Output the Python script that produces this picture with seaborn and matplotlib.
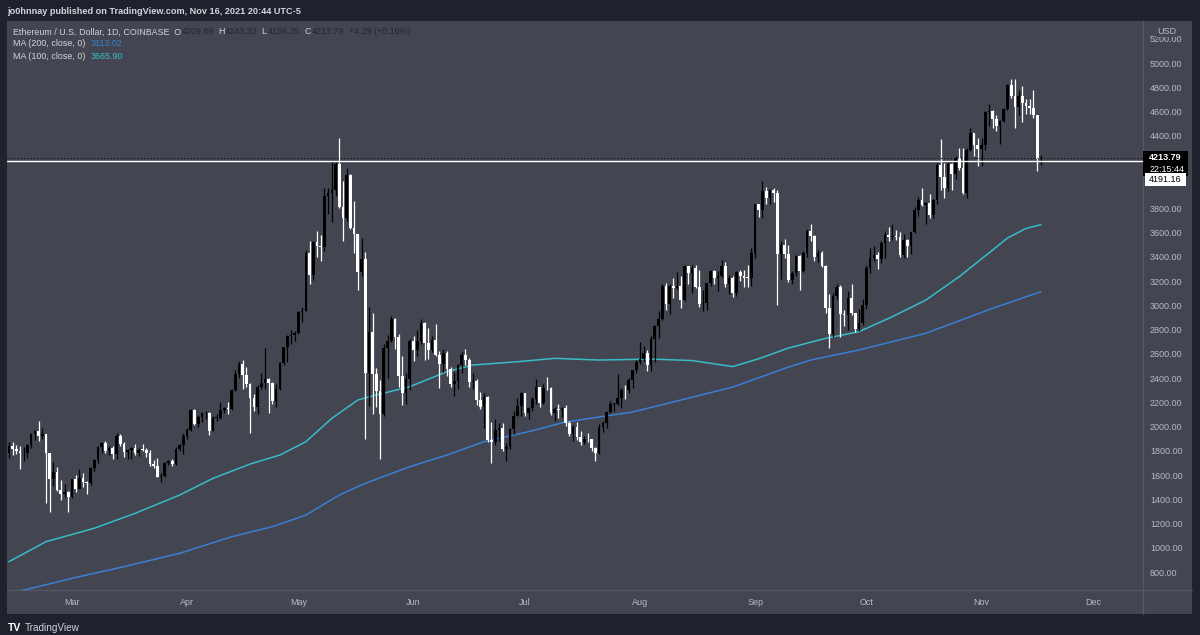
import numpy as np
import pandas as pd
import seaborn as sns
import matplotlib.pyplot as plt
import matplotlib.dates as mdates
from matplotlib.patches import Rectangle
from matplotlib.lines import Line2D
from matplotlib.transforms import blended_transform_factory

# daily candles, ETH/USD Coinbase, 2021-02-12 .. 2021-11-17
first_open = 1784
closes = [
    1842, 1814, 1800, 1780, 1781, 1848, 1937, 1960, 1920, 1935, 1781, 1570, 1625, 1473, 1446, 1459, 1417,  # Feb
    1565, 1488, 1575, 1541, 1533, 1655, 1725, 1835, 1868, 1797, 1825, 1770, 1924, 1855, 1792, 1806,
    1823, 1783, 1810, 1806, 1786, 1688, 1678, 1582, 1589, 1700, 1716, 1690, 1817, 1847, 1919,  # Mar
    1970, 2136, 2025, 2081, 2108, 2112, 1965, 2072, 2073, 2137, 2154, 2142, 2300, 2434, 2517,
    2429, 2350, 2232, 2164, 2323, 2356, 2393, 2360, 2214, 2310, 2527, 2655, 2748, 2758, 2773,  # Apr
    2945, 2950, 3432, 3253, 3524, 3490, 3481, 3902, 3928, 3952, 4168, 3813, 3720, 4075, 3639, 3590,
    3278, 3381, 2439, 2780, 2430, 2295, 2100, 2645, 2708, 2888, 2742, 2416, 2275, 2389, 2706,  # May
    2634, 2706, 2856, 2690, 2631, 2711, 2593, 2518, 2610, 2471, 2354, 2372, 2510, 2590, 2550,
    2365, 2373, 2222, 2164, 2244, 1890, 1873, 1970, 1989, 1816, 1830, 1980, 2087, 2170, 2275,  # Jun
    2112, 2151, 2224, 2325, 2197, 2321, 2316, 2116, 2147, 2138, 2153, 2031, 1940, 1995, 1914, 1875,
    1899, 1895, 1820, 1786, 1994, 2027, 2124, 2189, 2190, 2232, 2300, 2299, 2381, 2465, 2535,  # Jul
    2557, 2609, 2507, 2724, 2827, 2890, 3157, 3013, 3163, 3143, 3164, 3047, 3322, 3267, 3310, 3150,
    3012, 3018, 3183, 3285, 3226, 3241, 3324, 3173, 3226, 3101, 3274, 3245, 3228, 3226, 3433,  # Aug
    3834, 3790, 3941, 3889, 3951, 3926, 3428, 3497, 3427, 3212, 3266, 3408, 3286, 3429, 3613,
    3573, 3399, 3433, 3329, 2977, 2761, 3080, 3155, 2930, 2924, 3062, 2934, 2807, 2852, 3001,  # Sep
    3308, 3391, 3418, 3380, 3518, 3584, 3563, 3576, 3565, 3416, 3543, 3494, 3605, 3791, 3866, 3827,
    3848, 3745, 3873, 4155, 4056, 3972, 4169, 4083, 4218, 4130, 3927, 4285, 4420, 4324, 4288,  # Oct
    4323, 4594, 4603, 4534, 4479, 4520, 4620, 4816, 4731, 4635, 4728, 4666, 4648, 4625, 4570,
    4209.89, 4213.79,  # Nov
]
highs = [
    1871, 1871, 1847, 1840, 1828, 1854, 1950, 1975, 2042, 1985, 1940, 1782, 1710, 1670, 1558, 1525, 1469,
    1570, 1600, 1650, 1620, 1550, 1670, 1735, 1840, 1875, 1880, 1840, 1840, 1946, 1935, 1870, 1815,
    1835, 1860, 1825, 1855, 1820, 1810, 1725, 1740, 1620, 1705, 1725, 1730, 1830, 1860, 1945,
    1990, 2145, 2145, 2095, 2120, 2125, 2120, 2090, 2100, 2200, 2165, 2200, 2310, 2470, 2545,
    2550, 2495, 2360, 2270, 2345, 2440, 2645, 2400, 2370, 2350, 2535, 2660, 2755, 2795, 2790,
    2950, 2985, 3455, 3530, 3535, 3610, 3580, 3970, 3970, 4195, 4185, 4380, 4030, 4135, 4085, 3860,
    3590, 3560, 3440, 2990, 2940, 2485, 2385, 2680, 2755, 2915, 2895, 2760, 2580, 2445, 2720,
    2745, 2800, 2890, 2860, 2815, 2745, 2845, 2625, 2640, 2620, 2495, 2450, 2520, 2615, 2640,
    2565, 2440, 2390, 2285, 2280, 2250, 2040, 2060, 2030, 2030, 1865, 1990, 2130, 2235, 2285,
    2275, 2165, 2240, 2390, 2325, 2350, 2410, 2325, 2165, 2190, 2165, 2180, 2050, 2010, 2040, 1960,
    1925, 1950, 1900, 1835, 2025, 2045, 2130, 2215, 2195, 2430, 2315, 2345, 2400, 2470, 2550,
    2700, 2665, 2630, 2750, 2835, 2950, 3180, 3185, 3180, 3230, 3275, 3245, 3330, 3325, 3330, 3335,
    3290, 3125, 3185, 3290, 3295, 3280, 3375, 3355, 3250, 3245, 3285, 3290, 3295, 3335, 3470,
    3840, 3840, 4030, 3975, 3960, 3970, 3950, 3530, 3545, 3500, 3285, 3415, 3415, 3445, 3630,
    3670, 3580, 3460, 3445, 3330, 3095, 3100, 3180, 3165, 2960, 3120, 3175, 2940, 2970, 3050,
    3330, 3470, 3490, 3440, 3535, 3610, 3650, 3670, 3625, 3605, 3585, 3545, 3605, 3810, 3895, 3970,
    3855, 3915, 3880, 4175, 4375, 4175, 4180, 4175, 4235, 4295, 4300, 4295, 4460, 4420, 4380,
    4385, 4605, 4665, 4610, 4570, 4530, 4630, 4830, 4870, 4870, 4780, 4810, 4705, 4700, 4775,
    4575, 4243.33,
]
lows = [
    1737, 1765, 1770, 1652, 1720, 1741, 1820, 1890, 1880, 1895, 1371, 1293, 1511, 1470, 1394, 1423, 1293,
    1408, 1460, 1488, 1505, 1440, 1515, 1635, 1700, 1780, 1780, 1765, 1730, 1735, 1840, 1745, 1730,
    1730, 1765, 1760, 1800, 1750, 1675, 1655, 1580, 1545, 1585, 1680, 1675, 1680, 1800, 1775,
    1900, 1960, 2015, 1995, 2035, 2065, 1930, 1965, 2050, 2065, 2110, 2105, 2135, 2290, 2400,
    2310, 2330, 1950, 2130, 2100, 2310, 2310, 2110, 2185, 2165, 2300, 2510, 2535, 2685, 2705,
    2760, 2860, 2950, 3180, 3210, 3400, 3365, 3450, 3750, 3690, 3900, 3800, 3530, 3700, 3630, 3430,
    3130, 3240, 1900, 2170, 2100, 2160, 1730, 2090, 2400, 2695, 2640, 2330, 2180, 2185, 2300,
    2545, 2580, 2680, 2550, 2560, 2615, 2580, 2320, 2450, 2420, 2330, 2250, 2310, 2440, 2510,
    2330, 2310, 2180, 2145, 1990, 1870, 1700, 1850, 1885, 1800, 1720, 1815, 1940, 2085, 2090,
    2090, 2060, 2125, 2185, 2160, 2190, 2300, 2095, 2045, 2070, 2080, 2005, 1925, 1880, 1890, 1850,
    1860, 1870, 1800, 1720, 1770, 1955, 1985, 2110, 2125, 2175, 2150, 2230, 2280, 2320, 2440,
    2520, 2545, 2455, 2460, 2530, 2730, 2880, 2960, 2925, 3060, 3135, 2980, 3035, 3180, 3105, 3140,
    2990, 2950, 2965, 3160, 3180, 3120, 3235, 3150, 3090, 3070, 3075, 3200, 3155, 3155, 3160,
    3390, 3730, 3720, 3835, 3840, 3855, 3000, 3220, 3390, 3190, 3180, 3245, 3130, 3275, 3400,
    3530, 3370, 3355, 3315, 2935, 2650, 2740, 3055, 2740, 2830, 2800, 2920, 2780, 2790, 2840,
    2970, 3265, 3370, 3300, 3350, 3390, 3530, 3540, 3540, 3400, 3395, 3400, 3425, 3600, 3735, 3820,
    3675, 3720, 3720, 3840, 3950, 3885, 3945, 3950, 4045, 4120, 3915, 3890, 4275, 4230, 4150,
    4150, 4280, 4480, 4460, 4440, 4330, 4510, 4610, 4710, 4460, 4575, 4510, 4580, 4580, 4550,
    4110, 4156.35,
]

# moving averages
ma100_dates = ["2021-02-12", "2021-02-22", "2021-03-07", "2021-03-18", "2021-03-30", "2021-04-08",
               "2021-04-18", "2021-04-26", "2021-05-03", "2021-05-10", "2021-05-17", "2021-05-22",
               "2021-05-31", "2021-06-10", "2021-06-17", "2021-06-29", "2021-07-09", "2021-07-21",
               "2021-08-04", "2021-08-15", "2021-08-26", "2021-09-02", "2021-09-10", "2021-09-20",
               "2021-09-29", "2021-10-08", "2021-10-17", "2021-10-26", "2021-11-04", "2021-11-08",
               "2021-11-13", "2021-11-17"]
ma100_vals = [885, 1050, 1161, 1284, 1435, 1573, 1691, 1765, 1875, 2068, 2219, 2261,
              2329, 2453, 2508, 2535, 2563, 2549, 2557, 2545, 2495, 2560, 2648, 2728,
              2783, 2907, 3044, 3237, 3457, 3556, 3635, 3665.90]
ma200_dates = ["2021-02-12", "2021-02-18", "2021-03-01", "2021-03-15", "2021-03-30", "2021-04-13",
               "2021-04-24", "2021-05-03", "2021-05-12", "2021-05-19", "2021-05-31", "2021-06-10",
               "2021-06-20", "2021-07-02", "2021-07-12", "2021-07-30", "2021-08-12", "2021-08-26",
               "2021-09-10", "2021-09-16", "2021-09-29", "2021-10-17", "2021-11-04", "2021-11-17"]
ma200_vals = [625, 665, 748, 844, 954, 1091, 1174, 1270, 1435, 1532, 1669, 1765,
              1875, 1958, 2038, 2120, 2219, 2326, 2491, 2549, 2632, 2770, 2976, 3113.02]

hline_price = 4191.16
last_price = 4213.79
y_ticks = [800, 1000, 1200, 1400, 1600, 1800, 2000, 2200, 2400, 2600, 2800, 3000, 3200,
           3400, 3600, 3800, 4400, 4600, 4800, 5000, 5200]
month_ticks = ["2021-03-01", "2021-04-01", "2021-05-01", "2021-06-01", "2021-07-01",
               "2021-08-01", "2021-09-01", "2021-10-01", "2021-11-01", "2021-12-01"]
month_labels = ["Mar", "Apr", "May", "Jun", "Jul", "Aug", "Sep", "Oct", "Nov", "Dec"]

BG = "#1e222d"
PANEL = "#434651"
SEP = "#575a66"
TXT = "#b8bbc4"
LIGHT = "#d1d4dc"
DARKVAL = "#24262e"
BLUE = "#3a7fd4"
CYAN = "#38bcc8"

sns.set_style("dark")
plt.rcParams['font.family'] = ['Liberation Sans', 'DejaVu Sans']

dates = pd.date_range("2021-02-12", periods=len(closes), freq="D")
df = pd.DataFrame({"date": dates, "close": closes, "high": highs, "low": lows})
df["open"] = [first_open] + closes[:-1]
up = df["close"] >= df["open"]
colors = np.where(up, "#000000", "#ffffff")
body_lo = df[["open", "close"]].min(axis=1)
body_h = (df["close"] - df["open"]).abs().clip(lower=6)

W, H = 1200, 635
fig = plt.figure(figsize=(12, 6.35), dpi=100, facecolor=BG)
fig.patches.append(Rectangle((7 / W, (H - 614) / H), (1192 - 7) / W, (614 - 21) / H,
                             transform=fig.transFigure, facecolor=PANEL, edgecolor="none", zorder=-5))
ax = fig.add_axes([7 / W, (H - 590) / H, (1143 - 7) / W, (590 - 21) / H])
ax.set_facecolor(PANEL)

ax.vlines(df["date"], df["low"], df["high"], colors=colors, linewidth=0.9, zorder=2)
ax.bar(df["date"], body_h, bottom=body_lo, width=0.72, color=colors, linewidth=0, zorder=3)

ma100 = pd.DataFrame({"date": pd.to_datetime(ma100_dates), "ma": ma100_vals})
ma200 = pd.DataFrame({"date": pd.to_datetime(ma200_dates), "ma": ma200_vals})
sns.lineplot(data=ma200, x="date", y="ma", color=BLUE, linewidth=1.1, ax=ax, zorder=1)
sns.lineplot(data=ma100, x="date", y="ma", color=CYAN, linewidth=1.1, ax=ax, zorder=1)

ax.axhline(hline_price, color="white", linewidth=1.0, zorder=4)
ax.axhline(last_price, color="#111111", linewidth=0.8, linestyle=(0, (1, 2)), zorder=4)

x0 = pd.Timestamp("2021-03-01")
ax.set_xlim(mdates.date2num(x0 - pd.Timedelta(hours=17.5 * 24)),
            mdates.date2num(x0 + pd.Timedelta(hours=288.5 * 24)))
ax.set_ylim(651.5, 5346.6)
ax.set_xlabel("")
ax.set_ylabel("")
ax.grid(False)

ax.set_xticks(mdates.date2num(pd.to_datetime(month_ticks)))
ax.set_xticklabels(month_labels)
ax.yaxis.tick_right()
ax.set_yticks(y_ticks)
ax.set_yticklabels([f"{v:.2f}" for v in y_ticks])
ax.tick_params(axis="x", length=0, pad=6, labelcolor=TXT, labelsize=6.5)
ax.tick_params(axis="y", length=0, pad=5, labelcolor=TXT, labelsize=6.5)
for s in ["top", "left"]:
    ax.spines[s].set_visible(False)
for s in ["right", "bottom"]:
    ax.spines[s].set_color(SEP)
    ax.spines[s].set_linewidth(0.8)
fig.add_artist(Line2D([1143 / W, 1143 / W], [(H - 614) / H, (H - 590) / H], color=SEP, lw=0.8))
fig.add_artist(Line2D([1143 / W, 1192 / W], [(H - 590) / H, (H - 590) / H], color=SEP, lw=0.8))

# price axis labels
tr = blended_transform_factory(ax.transAxes, ax.transData)
ax.text(1.0125, 5262, "USD", transform=tr, color=TXT, fontsize=6.5, va="center", ha="left",
        bbox=dict(facecolor=PANEL, edgecolor="none", pad=1.2), zorder=6, clip_on=False)
ax.add_patch(Rectangle((1.0, 4067), 0.0396, 207, transform=tr, facecolor="black",
                       edgecolor="none", clip_on=False, zorder=6))
ax.text(1.0055, 4220, "4213.79", transform=tr, color="white", fontsize=6.5, weight="bold",
        va="center", ha="left", clip_on=False, zorder=7)
ax.text(1.0055, 4125, "22:15:44", transform=tr, color="white", fontsize=6.5,
        va="center", ha="left", clip_on=False, zorder=7)
ax.add_patch(Rectangle((1.0018, 3984), 0.036, 107, transform=tr, facecolor="white",
                       edgecolor="none", clip_on=False, zorder=6))
ax.text(1.0055, 4037, "4191.16", transform=tr, color="black", fontsize=6.5,
        va="center", ha="left", clip_on=False, zorder=7)

# header and legend
fig.text(7 / W, 1 - 11.5 / H, "jo0hnnay published on TradingView.com, Nov 16, 2021 20:44 UTC-5",
         color=LIGHT, fontsize=6.6, weight="bold", va="center", ha="left")


def chain(y_px, parts):
    prev = fig.text(13 / W, 1 - y_px / H, parts[0][0], color=parts[0][1], fontsize=6.4,
                    va="baseline", ha="left", zorder=8)
    for s, c in parts[1:]:
        prev = ax.annotate(s, xy=(1, 0), xycoords=prev, va="bottom", ha="left",
                           color=c, fontsize=6.4, annotation_clip=False, zorder=8)


chain(34.5, [("Ethereum / U.S. Dollar, 1D, COINBASE  O", LIGHT), ("4209.89", DARKVAL),
             ("  H", LIGHT), ("4243.33", DARKVAL), ("  L", LIGHT), ("4156.35", DARKVAL),
             ("  C", LIGHT), ("4213.79", DARKVAL), ("  +4.29 (+0.10%)", DARKVAL)])
chain(46.5, [("MA (200, close, 0)  ", LIGHT), ("3113.02", BLUE)])
chain(59, [("MA (100, close, 0)  ", LIGHT), ("3665.90", CYAN)])

# footer logo
fig.text(7.5 / W, 1 - 628 / H, "TV", color="white", fontsize=7.5, weight="heavy",
         va="center", ha="left")
fig.text(25 / W, 1 - 628 / H, "TradingView", color=LIGHT, fontsize=7.2, va="center", ha="left")

fig.savefig("out.png", dpi=100, facecolor=BG)
